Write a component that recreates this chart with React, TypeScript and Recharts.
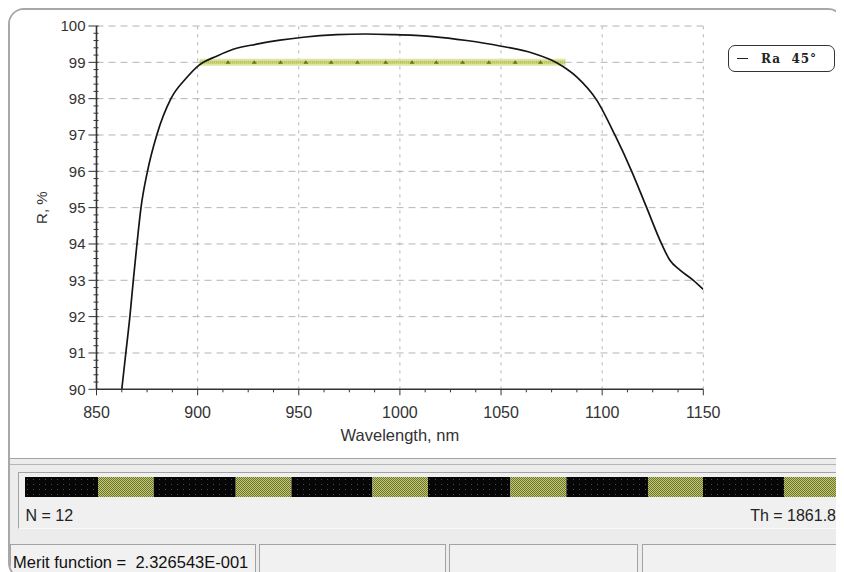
import React from "react";
import {
  LineChart,
  Line,
  XAxis,
  YAxis,
  ReferenceLine,
  Legend,
  BarChart,
  Bar,
} from "recharts";

// reflectance curve
const wavelength = [
  862.5, 864.5, 866.5, 868.2, 870, 872, 875.2, 879.8, 886.8, 894.3, 900.9, 909.4, 917.6, 929.2,
  940.7, 952.2, 968.8, 983, 997.6, 1016.4, 1033, 1049.5, 1065.8, 1077.5, 1087.4, 1097.3, 1106.3,
  1114.6, 1122, 1129.4, 1133.5, 1138.5, 1145.1, 1150,
];
const reflectance = [
  90.0, 91.0, 92.0, 93.0, 94.0, 95.0, 96.0, 97.0, 98.0, 98.56, 98.93, 99.17, 99.36, 99.5, 99.61,
  99.69, 99.76, 99.78, 99.76, 99.71, 99.6, 99.45, 99.25, 98.99, 98.6, 97.96, 97.0, 96.0, 95.0,
  94.0, 93.55, 93.28, 93.0, 92.75,
];

// design target (R = 99 %)
const targetWl = [
  901, 915, 928, 941, 953.5, 966, 979, 993, 1006, 1018, 1031, 1044, 1057, 1069.5, 1082,
];
const targetR = 99;

// layer thicknesses, nm
const layers = [167.2, 127.6, 187.8, 127.6, 185.5, 127.3, 188.7, 128.2, 186.9, 126.0, 185.5, 123.7];
const layerKind = ["H", "L", "H", "L", "H", "L", "H", "L", "H", "L", "H", "L"];

const xMajor = [850, 900, 950, 1000, 1050, 1100, 1150];
const yMajor = [90, 91, 92, 93, 94, 95, 96, 97, 98, 99, 100];
const xMinorStep = 12.5;
const yMinorStep = 0.2;

const curve = wavelength.map((wl, i) => ({ wl, r: reflectance[i] }));
const target = targetWl.map((wl) => ({ wl, r: targetR }));
const layerRow: any = { name: "stack" };
layers.forEach((t, i) => (layerRow[`l${i + 1}`] = t));
const totalTh = layers.reduce((a, b) => a + b, 0);

const xTicks: number[] = [];
for (let i = 0; i <= (1150 - 850) / xMinorStep; i++) xTicks.push(850 + i * xMinorStep);
const yTicks: number[] = [];
for (let i = 0; i <= (100 - 90) / yMinorStep; i++) yTicks.push(Math.round((90 + i * yMinorStep) * 10) / 10);

const ui = "'Liberation Sans', Arial, sans-serif";
const tickFont = { fontFamily: ui, fontSize: 15, fill: "#333" };

const XTick = ({ x, y, payload }: any) => {
  const major = xMajor.includes(payload.value);
  return (
    <g>
      <line x1={x} x2={x} y1={y} y2={y + (major ? 6 : 3)} stroke="#333" strokeWidth={1} />
      {major && (
        <text x={x} y={y + 29} textAnchor="middle" {...tickFont} fontSize={16}>
          {payload.value}
        </text>
      )}
    </g>
  );
};

const YTick = ({ x, y, payload }: any) => {
  const major = yMajor.includes(payload.value);
  return (
    <g>
      <line x1={x - (major ? 8 : 3)} x2={x + 2} y1={y} y2={y} stroke="#333" strokeWidth={1} />
      {major && (
        <text x={x - 11} y={y} dy="0.36em" textAnchor="end" {...tickFont}>
          {payload.value}
        </text>
      )}
    </g>
  );
};

const Triangle = ({ cx, cy, index }: any) => {
  if (index === 0 || index === targetWl.length - 1) return <g key={index} />;
  return <path key={index} d={`M${cx - 2.5},${cy + 1.5} L${cx + 2.5},${cy + 1.5} L${cx},${cy - 2} Z`} fill="#66711f" />;
};

const LegendBox = () => (
  <div
    style={{
      width: 107,
      height: 27,
      boxSizing: "border-box",
      border: "1.5px solid #333",
      borderRadius: 7,
      display: "flex",
      alignItems: "center",
      background: "#fff",
    }}
  >
    <span style={{ display: "inline-block", width: 11, height: 1.5, background: "#222", marginLeft: 8 }} />
    <span
      style={{
        marginLeft: 13,
        fontFamily: "'DejaVu Serif', serif",
        fontWeight: "bold",
        fontSize: 12,
        letterSpacing: 1,
        whiteSpace: "pre",
        color: "#222",
      }}
    >
      {"Ra  45°"}
    </span>
  </div>
);

const gridStyle = { stroke: "#b4b4b4", strokeWidth: 1 };

function ReflectanceChart() {
  return (
    <LineChart width={832} height={447} margin={{ top: 16, right: 138.7, left: 0, bottom: 0 }}>
      {yMajor.slice(1).map((v) => (
        <ReferenceLine key={`h${v}`} y={v} {...gridStyle} strokeDasharray="7 5" />
      ))}
      {xMajor.slice(1).map((v) => (
        <ReferenceLine key={`v${v}`} x={v} {...gridStyle} strokeDasharray="3 5" />
      ))}
      <XAxis
        dataKey="wl"
        type="number"
        domain={[850, 1150]}
        ticks={xTicks}
        interval={0}
        tick={<XTick />}
        tickSize={0}
        tickMargin={0}
        tickLine={false}
        axisLine={{ stroke: "#333", strokeWidth: 1.6 }}
        height={67.7}
        allowDataOverflow
        label={{
          value: "Wavelength, nm",
          position: "insideTop",
          offset: 40,
          style: { fontFamily: ui, fontSize: 16.5, fill: "#333" },
        }}
      />
      <YAxis
        type="number"
        domain={[90, 100]}
        ticks={yTicks}
        interval={0}
        tick={<YTick />}
        tickSize={0}
        tickMargin={0}
        tickLine={false}
        axisLine={{ stroke: "#333", strokeWidth: 1.6 }}
        width={86.5}
        allowDataOverflow
        label={{
          value: "R, %",
          angle: -90,
          position: "insideLeft",
          offset: 32,
          style: { textAnchor: "middle", fontFamily: ui, fontSize: 15, fill: "#333" },
        }}
      />
      <Line
        data={target}
        dataKey="r"
        stroke="#dfe5a3"
        strokeWidth={7}
        dot={false}
        isAnimationActive={false}
        legendType="none"
      />
      <Line
        data={target}
        dataKey="r"
        stroke="#a9b33d"
        strokeWidth={3}
        strokeDasharray="1 1"
        dot={<Triangle />}
        isAnimationActive={false}
        legendType="none"
      />
      <Line
        data={curve}
        dataKey="r"
        name="Ra 45°"
        type="monotone"
        stroke="#151515"
        strokeWidth={1.7}
        dot={false}
        isAnimationActive={false}
      />
      <Legend
        layout="vertical"
        align="center"
        verticalAlign="middle"
        content={<LegendBox />}
        wrapperStyle={{ position: "absolute", left: 718, top: 35, width: 107, height: 27 }}
      />
    </LineChart>
  );
}

function LayerStrip() {
  return (
    <BarChart
      width={813}
      height={20}
      layout="vertical"
      data={[layerRow]}
      margin={{ top: 0, right: 0, left: 0, bottom: 0 }}
      barCategoryGap={0}
    >
      <defs>
        <pattern id="hiPat" width="6" height="5" patternUnits="userSpaceOnUse">
          <rect width="6" height="5" fill="#060606" />
          <rect x="2" y="2" width="1" height="1" fill="#4a4a55" />
        </pattern>
        <pattern id="loPat" width="2" height="2" patternUnits="userSpaceOnUse">
          <rect width="2" height="2" fill="#c3c872" />
          <rect width="1" height="1" fill="#6d7430" />
          <rect x="1" y="1" width="1" height="1" fill="#6d7430" />
        </pattern>
      </defs>
      <XAxis type="number" hide domain={[0, totalTh]} />
      <YAxis type="category" dataKey="name" hide />
      {layers.map((_, i) => (
        <Bar
          key={i}
          dataKey={`l${i + 1}`}
          stackId="s"
          fill={layerKind[i] === "H" ? "url(#hiPat)" : "url(#loPat)"}
          isAnimationActive={false}
        />
      ))}
    </BarChart>
  );
}

const cell = (left: number, width: number): React.CSSProperties => ({
  position: "absolute",
  left,
  top: 534,
  width,
  height: 60,
  boxSizing: "border-box",
  borderTop: "1px solid #a3a3a3",
  borderLeft: "1px solid #a3a3a3",
  borderRight: "1px solid #a3a3a3",
  background: "#f1f1f1",
});

export default function App() {
  return (
    <div
      style={{
        position: "relative",
        width: 836,
        height: 571,
        boxSizing: "border-box",
        border: "2px solid #a8a8a8",
        borderRadius: 16,
        overflow: "hidden",
        background: "#ececec",
        fontFamily: ui,
      }}
    >
      <div style={{ position: "absolute", left: 0, top: 0, width: 832, height: 448, background: "#fff" }}>
        <ReflectanceChart />
      </div>
      <div style={{ position: "absolute", left: 0, top: 448, width: 832, height: 1, background: "#a3a3a3" }} />
      <div style={{ position: "absolute", left: 0, top: 454, width: 832, height: 1, background: "#b5b5b5" }} />
      <div
        style={{
          position: "absolute",
          left: 8,
          top: 462,
          width: 840,
          height: 57,
          boxSizing: "border-box",
          borderTop: "1px solid #a3a3a3",
          borderLeft: "1px solid #a3a3a3",
          borderBottom: "1px solid #fafafa",
          background: "#f0f0f0",
        }}
      />
      <div style={{ position: "absolute", left: 15.3, top: 467.3 }}>
        <LayerStrip />
      </div>
      <div style={{ position: "absolute", left: 15.5, top: 497, fontSize: 16, color: "#222" }}>N = 12</div>
      <div style={{ position: "absolute", right: 6, top: 497, fontSize: 16, color: "#222" }}>Th = 1861.8</div>
      <div style={cell(0, 246)}>
        <div style={{ position: "absolute", left: 2, top: 8, fontSize: 16.5, color: "#111", whiteSpace: "pre" }}>
          {"Merit function =  2.326543E-001"}
        </div>
      </div>
      <div style={cell(249, 187)} />
      <div style={cell(439, 189)} />
      <div style={cell(632, 220)} />
    </div>
  );
}
